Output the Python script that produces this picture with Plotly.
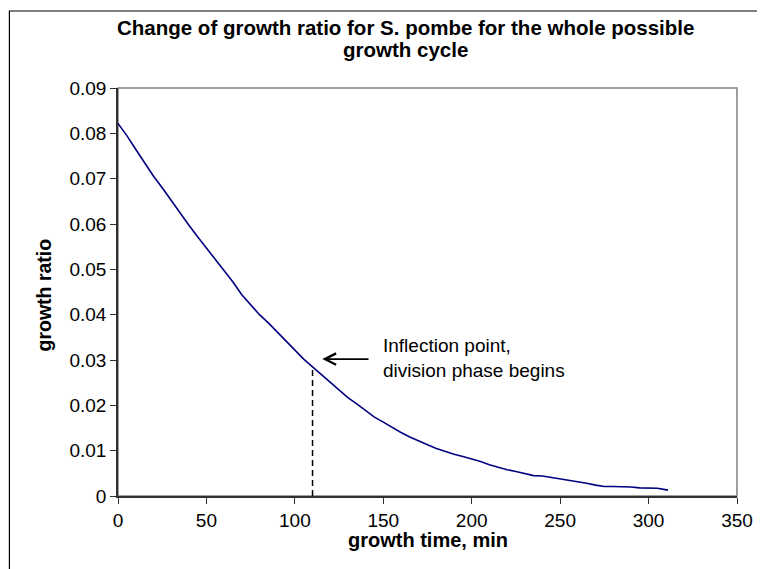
import plotly.graph_objects as go

# growth time (min) and growth ratio
time_min = [0, 5, 10, 15, 20, 25, 30, 35, 40, 45, 50, 55, 60, 65, 70, 75, 80, 85, 90, 95,
            100, 105, 110, 115, 120, 125, 130, 135, 140, 145, 150, 155, 160, 165, 170, 175,
            180, 185, 190, 195, 200, 205, 210, 215, 220, 225, 230, 235, 240, 245, 250, 255,
            260, 265, 270, 275, 280, 285, 290, 295, 300, 305, 311]
growth_ratio = [0.0822, 0.0795, 0.0765, 0.0735, 0.0706, 0.0680, 0.0652, 0.0624, 0.0598, 0.0572,
                0.0547, 0.0522, 0.0499, 0.0472, 0.0444, 0.0422, 0.0400, 0.0382, 0.0362, 0.0340,
                0.0320, 0.0302, 0.0285, 0.0268, 0.0250, 0.0233, 0.0217, 0.0203, 0.0188, 0.0174,
                0.0163, 0.0151, 0.0140, 0.0130, 0.0121, 0.0113, 0.0105, 0.0098, 0.0092, 0.0087,
                0.0082, 0.0076, 0.0069, 0.0063, 0.0058, 0.0054, 0.0049, 0.0045, 0.0044, 0.0041,
                0.0037, 0.0034, 0.0031, 0.0028, 0.0024, 0.0021, 0.0021, 0.0021, 0.0020, 0.0018,
                0.0018, 0.0017, 0.0013]

# inflection point marker (dashed drop line) and arrow
inflection_x = [110, 110]
inflection_y = [0, 0.0287]
arrow_head = (115.5, 0.0302)
arrow_tail = (142.5, 0.0302)
note_pos = (148.5, 0.0305)

x_ticks = [0, 50, 100, 150, 200, 250, 300, 350]
y_ticks = [0, 0.01, 0.02, 0.03, 0.04, 0.05, 0.06, 0.07, 0.08, 0.09]

title_lines = ['Change of growth ratio for S. pombe for the whole possible', 'growth cycle']

font = 'Liberation Sans, Arial, sans-serif'

# the page adds an 8px body margin, so the figure is 8px smaller than the window
W, H = 757, 561
L, R, T, B = 110, 24, 80, 73
pw, ph = W - L - R, H - T - B


def px(x):
    return (x - L) / pw


def py(y):
    return 1 - (y - T) / ph


fig = go.Figure()

fig.add_trace(go.Scatter(
    x=time_min, y=growth_ratio, mode='lines',
    line=dict(color='#000080', width=1.6),
))
fig.add_trace(go.Scatter(
    x=inflection_x, y=inflection_y, mode='lines',
    line=dict(color='black', width=1.5, dash='6px,4px'),
))

fig.update_layout(
    width=W,
    height=H,
    paper_bgcolor='white',
    plot_bgcolor='white',
    showlegend=False,
    margin=dict(l=L, r=R, t=T, b=B, pad=0),
    font=dict(family=font, size=19, color='black'),
    xaxis=dict(
        range=[0, 350], tickvals=x_ticks, ticktext=[str(v) for v in x_ticks],
        showgrid=False, zeroline=False,
        showline=True, linecolor='#303030', linewidth=1.5,
        ticks='outside', ticklen=6, tickcolor='#303030', tickwidth=1.2,
        tickfont=dict(size=19),
    ),
    yaxis=dict(
        range=[0, 0.09], tickvals=y_ticks, ticktext=['0' if v == 0 else f'{v:.2f}' for v in y_ticks],
        showgrid=False, zeroline=False,
        showline=True, linecolor='#303030', linewidth=1.5,
        ticks='outside', ticklen=6, tickcolor='#303030', tickwidth=1.2,
        tickfont=dict(size=19),
    ),
)

# gray frame on top and right of plot area
fig.add_shape(type='rect', xref='paper', yref='paper', x0=0, y0=0, x1=1, y1=1,
              line=dict(color='#808080', width=1.5), layer='below')

# outer chart frame (runs off the right and bottom of the picture)
fig.add_shape(type='rect', xref='paper', yref='paper',
              x0=px(0.7), x1=px(W + 40), y0=py(H + 40), y1=py(3),
              line=dict(color='black', width=1.2), layer='below')

# chart title, two lines
for i, line in enumerate(title_lines):
    fig.add_annotation(text=f'<b>{line}</b>', xref='paper', yref='paper',
                       x=px(399), y=py(19 + 23 * i), xanchor='center', yanchor='middle',
                       showarrow=False, font=dict(size=20.5))

# axis titles
fig.add_annotation(text='<b>growth ratio</b>', xref='paper', yref='paper',
                   x=px(36), y=py(287), xanchor='center', yanchor='middle',
                   textangle=-90, showarrow=False, font=dict(size=19.5))
fig.add_annotation(text='<b>growth time, min</b>', xref='paper', yref='paper',
                   x=px(422), y=py(532), xanchor='center', yanchor='middle',
                   showarrow=False, font=dict(size=20))

# inflection note
fig.add_annotation(text='Inflection point,<br>division phase begins',
                   x=note_pos[0], y=note_pos[1], xanchor='left', yanchor='middle',
                   align='left', showarrow=False, font=dict(size=19))
fig.add_annotation(text='', x=arrow_head[0], y=arrow_head[1],
                   ax=arrow_tail[0], ay=arrow_tail[1], axref='x', ayref='y',
                   showarrow=True, arrowhead=5, arrowsize=1.4, arrowwidth=1.6,
                   arrowcolor='black', standoff=0)

fig.write_html("out.html")
